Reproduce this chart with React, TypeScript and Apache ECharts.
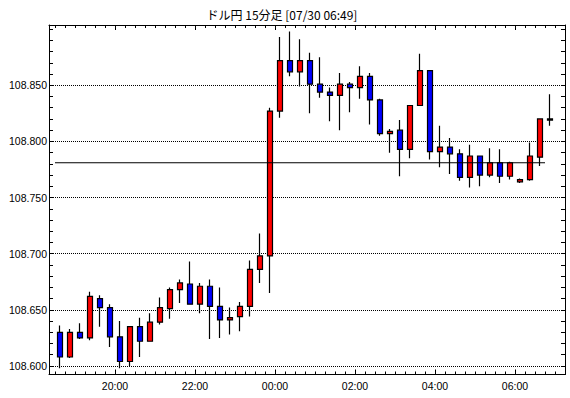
import React, { useEffect, useRef } from "react";
import * as echarts from "echarts";

const titleText = "ドル円 15分足 [07/30 06:49]";

// 15-minute bars (start time of each bar)
const startTimes = [
  "18:30", "18:45", "19:00", "19:15", "19:30", "19:45", "20:00", "20:15", "20:30", "20:45",
  "21:00", "21:15", "21:30", "21:45", "22:00", "22:15", "22:30", "22:45", "23:00", "23:15",
  "23:30", "23:45", "00:00", "00:15", "00:30", "00:45", "01:00", "01:15", "01:30", "01:45",
  "02:00", "02:15", "02:30", "02:45", "03:00", "03:15", "03:30", "03:45", "04:00", "04:15",
  "04:30", "04:45", "05:00", "05:15", "05:30", "05:45", "06:00", "06:15", "06:30", "06:45",
];
const opens = [
  108.630, 108.608, 108.630, 108.625, 108.660, 108.652, 108.626, 108.604, 108.635, 108.622,
  108.639, 108.651, 108.668, 108.673, 108.655, 108.671, 108.653, 108.641, 108.644, 108.653,
  108.686, 108.698, 108.827, 108.872, 108.862, 108.872, 108.851, 108.844, 108.841, 108.851,
  108.848, 108.858, 108.837, 108.807, 108.810, 108.793, 108.832, 108.863, 108.791, 108.795,
  108.789, 108.768, 108.787, 108.770, 108.781, 108.769, 108.764, 108.766, 108.786, 108.820,
];
const closes = [
  108.608, 108.630, 108.625, 108.662, 108.652, 108.626, 108.604, 108.635, 108.622, 108.639,
  108.652, 108.668, 108.674, 108.655, 108.671, 108.653, 108.641, 108.643, 108.653, 108.686,
  108.698, 108.827, 108.872, 108.862, 108.872, 108.851, 108.844, 108.841, 108.851, 108.848,
  108.858, 108.837, 108.807, 108.809, 108.793, 108.832, 108.863, 108.791, 108.795, 108.789,
  108.768, 108.787, 108.770, 108.781, 108.769, 108.781, 108.766, 108.787, 108.820, 108.819,
];
const lows = [
  108.598, 108.607, 108.624, 108.623, 108.635, 108.617, 108.598, 108.600, 108.608, 108.622,
  108.637, 108.642, 108.656, 108.655, 108.647, 108.624, 108.625, 108.628, 108.631, 108.644,
  108.674, 108.665, 108.821, 108.858, 108.849, 108.825, 108.839, 108.818, 108.810, 108.826,
  108.838, 108.815, 108.805, 108.790, 108.769, 108.785, 108.832, 108.784, 108.777, 108.771,
  108.765, 108.759, 108.760, 108.768, 108.763, 108.766, 108.763, 108.765, 108.778, 108.814,
];
const highs = [
  108.636, 108.633, 108.638, 108.666, 108.663, 108.655, 108.640, 108.635, 108.643, 108.647,
  108.661, 108.670, 108.677, 108.693, 108.674, 108.677, 108.670, 108.652, 108.657, 108.694,
  108.718, 108.830, 108.893, 108.898, 108.891, 108.879, 108.875, 108.848, 108.861, 108.853,
  108.867, 108.861, 108.838, 108.811, 108.819, 108.832, 108.878, 108.863, 108.814, 108.803,
  108.793, 108.797, 108.787, 108.794, 108.793, 108.782, 108.767, 108.799, 108.820, 108.842,
];

const gridLevels = [108.6, 108.65, 108.7, 108.75, 108.8, 108.85];
const labelLevels = [108.6, 108.65, 108.7, 108.75, 108.8, 108.85];
const refLevel = 108.781;
const refLineTimes = ["18:30", "06:45"];

function toMinutes(t: string): number {
  const [h, m] = t.split(":").map(Number);
  const v = h * 60 + m;
  return h >= 12 ? v - 1440 : v;
}

function fmtTime(v: number): string {
  let m = Math.round(v);
  m = ((m % 1440) + 1440) % 1440;
  const h = Math.floor(m / 60);
  const mm = m % 60;
  return String(h).padStart(2, "0") + ":" + String(mm).padStart(2, "0");
}

const FONT = "'Liberation Sans', Arial, sans-serif";

export default function App() {
  const ref = useRef<HTMLDivElement>(null);

  useEffect(() => {
    if (!ref.current) return;
    const chart = echarts.init(ref.current, undefined, { renderer: "svg" });

    const candleData = startTimes.map((t, i) => [
      toMinutes(t) + 7.5,
      opens[i],
      closes[i],
      lows[i],
      highs[i],
    ]);

    const xCommon = {
      type: "value" as const,
      min: -339,
      max: 435,
      minInterval: 120,
      maxInterval: 120,
      axisLine: { show: true, onZero: false, lineStyle: { color: "#000", width: 1 } },
      axisTick: { show: true, inside: true, length: 5, lineStyle: { color: "#000", width: 1 } },
      minorTick: { show: true, splitNumber: 8, length: 3, lineStyle: { color: "#000", width: 1 } },
      splitLine: { show: false },
      minorSplitLine: { show: false },
    };

    const yCommon = {
      type: "value" as const,
      min: 108.5924,
      max: 108.9037,
      minInterval: 0.05,
      maxInterval: 0.05,
      scale: true,
      axisLine: { show: true, onZero: false, lineStyle: { color: "#000", width: 1 } },
      axisTick: { show: true, inside: true, length: 4, lineStyle: { color: "#000", width: 1 } },
      minorTick: { show: true, splitNumber: 5, length: 4, lineStyle: { color: "#000", width: 1 } },
      splitLine: { show: false },
      minorSplitLine: { show: false },
    };

    chart.setOption({
      animation: false,
      backgroundColor: "#fff",
      graphic: [
        {
          type: "text",
          x: 282,
          y: 14,
          silent: true,
          style: {
            text: titleText,
            textAlign: "center",
            textVerticalAlign: "middle",
            fontSize: 12,
            fontFamily: "'Noto Sans CJK JP', sans-serif",
            fill: "#000",
          },
        },
      ],
      grid: { left: 49, right: 5, top: 25, bottom: 23.5, containLabel: false },
      xAxis: [
        {
          ...xCommon,
          position: "bottom",
          axisLabel: {
            show: true,
            color: "#000",
            fontSize: 10.5,
            fontFamily: FONT,
            margin: 6,
            showMinLabel: false,
            showMaxLabel: false,
            formatter: (v: number) => fmtTime(v),
          },
        },
        {
          ...xCommon,
          position: "top",
          axisLabel: { show: false },
        },
      ],
      yAxis: [
        {
          ...yCommon,
          position: "left",
          axisLabel: {
            show: true,
            color: "#000",
            fontSize: 10.5,
            fontFamily: FONT,
            margin: 2,
            showMinLabel: false,
            showMaxLabel: false,
            formatter: (v: number) =>
              labelLevels.some((l) => Math.abs(l - v) < 1e-6) ? v.toFixed(3) : "",
          },
        },
        {
          ...yCommon,
          position: "right",
          axisLabel: { show: false },
        },
      ],
      series: [
        {
          type: "candlestick",
          xAxisIndex: 0,
          yAxisIndex: 0,
          data: candleData,
          encode: { x: 0, y: [1, 2, 3, 4] },
          barWidth: 5,
          z: 3,
          itemStyle: {
            color: "#ff0000",
            color0: "#0000ff",
            borderColor: "#000",
            borderColor0: "#000",
            borderColorDoji: "#000",
            borderWidth: 1.2,
          },
          markLine: {
            silent: true,
            z: 1,
            symbol: ["none", "none"],
            label: { show: false },
            lineStyle: { color: "#000", type: [1, 1], width: 1 },
            emphasis: { disabled: true },
            data: gridLevels.map((v) => ({ yAxis: v })),
          },
        },
        {
          type: "line",
          xAxisIndex: 0,
          yAxisIndex: 0,
          data: refLineTimes.map((t) => [toMinutes(t), refLevel]),
          symbol: "none",
          showSymbol: false,
          silent: true,
          z: 5,
          lineStyle: { color: "#000", width: 1 },
        },
      ],
    });

    return () => chart.dispose();
  }, []);

  return (
    <div
      ref={ref}
      style={{ position: "fixed", left: 0, top: 0, width: 570, height: 398, background: "#fff" }}
    />
  );
}
